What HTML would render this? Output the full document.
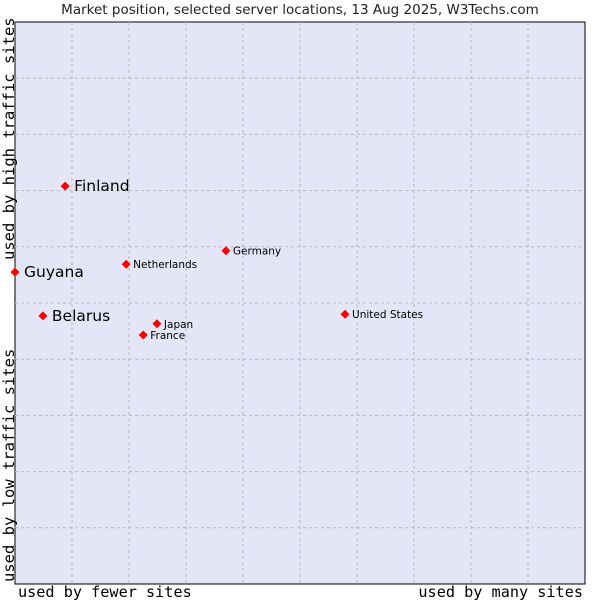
<!DOCTYPE html>
<html><head><meta charset="utf-8"><style>
body{margin:0;background:#fff;width:600px;height:600px;overflow:hidden}
svg{display:block}
</style></head><body>
<svg id="chart" width="600" height="600">
<text x="300" y="14" text-anchor="middle" font-family="DejaVu Sans, sans-serif" font-size="13.5" fill="#222">Market position, selected server locations, 13 Aug 2025, W3Techs.com</text>
<rect x="15" y="22" width="570" height="562" fill="#e4e6f8" stroke="#000" stroke-width="1"/>
<g id="grid"></g>
<g id="points"></g>
<text x="18" y="597" font-family="DejaVu Sans Mono, monospace" font-size="15.2" fill="#000">used by fewer sites</text>
<text x="583" y="597" text-anchor="end" font-family="DejaVu Sans Mono, monospace" font-size="15.2" fill="#000">used by many sites</text>
<text transform="translate(14,260) rotate(-90)" font-family="DejaVu Sans Mono, monospace" font-size="15.5" fill="#000">used by high traffic sites</text>
<text transform="translate(14,582) rotate(-90)" font-family="DejaVu Sans Mono, monospace" font-size="15.5" fill="#000">used by low traffic sites</text>
</svg>
<script>
const names=["Finland","Guyana","Belarus","Netherlands","Germany","Japan","France","United States"];
const xVals=[8.8,0,4.9,19.5,37.0,24.9,22.5,57.9];
const yVals=[70.8,55.5,47.7,56.9,59.3,46.3,44.3,48.0];
const bigLabel=[true,true,true,false,false,false,false,false];
const L=15,T=22,W=570,H=562;
const xs=v=>L+v/100*W, ys=v=>T+H-v/100*H;
const NS="http://www.w3.org/2000/svg";
const grid=document.getElementById('grid');
for(let i=1;i<10;i++){
 const v=document.createElementNS(NS,'line');
 v.setAttribute('x1',xs(i*10));v.setAttribute('x2',xs(i*10));v.setAttribute('y1',T);v.setAttribute('y2',T+H);
 v.setAttribute('stroke','#b8b8b8');v.setAttribute('stroke-dasharray','3,3');
 
 
 grid.appendChild(v);
 const h=document.createElementNS(NS,'line');
 h.setAttribute('y1',ys(i*10));h.setAttribute('y2',ys(i*10));h.setAttribute('x1',L);h.setAttribute('x2',L+W);
 h.setAttribute('stroke','#b8b8b8');h.setAttribute('stroke-dasharray','3,3');
 
 
 grid.appendChild(h);
}
const pts=document.getElementById('points');
names.forEach((n,i)=>{
 const x=xs(xVals[i]),y=ys(yVals[i]);
 const m=document.createElementNS(NS,'polygon');
 m.setAttribute('points',`${x},${y-4.5} ${x+4.5},${y} ${x},${y+4.5} ${x-4.5},${y}`);
 m.setAttribute('fill','#ff0000');
 
 
 pts.appendChild(m);
 const t=document.createElementNS(NS,'text');
 const big=bigLabel[i];
 t.setAttribute('x',x+(big?9:7));t.setAttribute('y',y+(big?5:4));
 t.setAttribute('font-family','DejaVu Sans, sans-serif');
 t.setAttribute('font-size',big?15.5:10.5);
 t.setAttribute('fill','#000');
 t.textContent=n;
 
 
 pts.appendChild(t);
});
</script>
</body></html>
